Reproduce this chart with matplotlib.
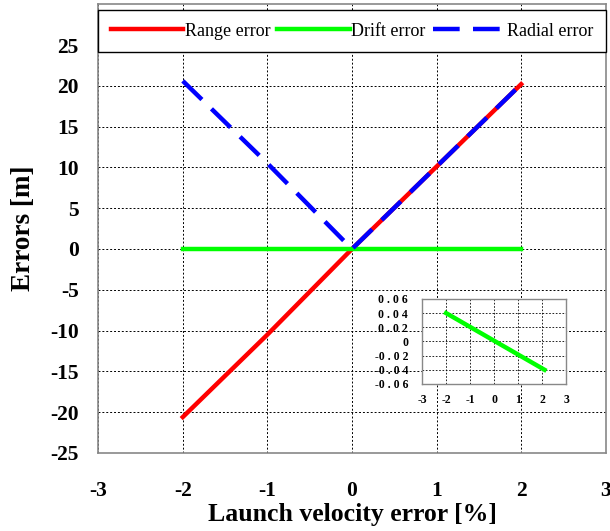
import matplotlib
matplotlib.use('Agg')
import matplotlib.pyplot as plt

plt.rcParams['font.family'] = ['Liberation Serif', 'DejaVu Serif']
plt.rcParams['axes.unicode_minus'] = False

# data
velocity_err = [-2, -1, 0, 1, 2]
range_err = [-20.6, -10.5, 0.0, 10.1, 20.2]
drift_err = [0.0, 0.0, 0.0, 0.0, 0.0]
radial_err = [20.6, 10.5, 0.0, 10.1, 20.2]

inset_x = [-2, 2.1]
inset_drift = [0.04, -0.04]

x_ticks = [-3, -2, -1, 0, 1, 2, 3]
y_ticks = [-25, -20, -15, -10, -5, 0, 5, 10, 15, 20, 25]
inset_yticks = [-0.06, -0.04, -0.02, 0, 0.02, 0.04, 0.06]
inset_ylabels = ['-0 . 0 6', '-0 . 0 4', '-0 . 0 2', '0', '0 . 0 2', '0 . 0 4', '0 . 0 6']

fig = plt.figure(figsize=(6.1, 5.31), dpi=100)
ax = fig.add_axes([0.161, 0.147, 0.832, 0.845])

ax.plot(velocity_err, range_err, color='#ff0000', lw=3.2, label='Range error')
ax.plot(velocity_err, drift_err, color='#00ff00', lw=3.2, label='Drift error')
ax.plot(velocity_err, radial_err, color='#0000ff', lw=3.2, label='Radial error',
        dashes=(6, 3))

ax.set_xlim(-3, 3)
ax.set_ylim(-25, 30)
ax.set_xticks(x_ticks)
ax.set_yticks(y_ticks)
ax.grid(True, color='black', linestyle=(0, (2, 2)), linewidth=0.7)
ax.tick_params(length=0, labelsize=15.5)
ax.tick_params(axis='y', pad=14)
ax.tick_params(axis='x', pad=20)
for lab in ax.get_xticklabels() + ax.get_yticklabels():
    lab.set_fontweight('bold')
for sp in ax.spines.values():
    sp.set_color('#888888')
    sp.set_linewidth(1.2)

ax.set_xlabel('Launch velocity error [%]', fontsize=18.5, fontweight='bold', labelpad=2)
ax.set_ylabel('Errors [m]', fontsize=19.5, fontweight='bold', labelpad=10)

leg = ax.legend(loc='upper left', bbox_to_anchor=(0, 0, 1, 0.987), mode='expand', ncol=3,
                fontsize=13, handlelength=4.0, handletextpad=0.1, columnspacing=0.5,
                fancybox=False, framealpha=1, edgecolor='black', borderpad=0.7,
                borderaxespad=0)
leg.get_frame().set_linewidth(1.0)

# small inset for drift error
ins = fig.add_axes([0.692, 0.277, 0.236, 0.160])
ins.plot(inset_x, inset_drift, color='#00ff00', lw=3.2)
ins.set_xlim(-3, 3)
ins.set_ylim(-0.06, 0.06)
ins.set_xticks(x_ticks)
ins.set_yticks(inset_yticks)
ins.set_yticklabels(inset_ylabels)
ins.grid(True, color='black', linestyle=(0, (2, 2)), linewidth=0.6)
ins.tick_params(length=0, labelsize=8.5)
ins.tick_params(axis='y', pad=10)
ins.tick_params(axis='x', pad=7)
for lab in ins.get_xticklabels() + ins.get_yticklabels():
    lab.set_fontweight('bold')
for sp in ins.spines.values():
    sp.set_color('#888888')
    sp.set_linewidth(1.0)

fig.savefig('out.png', dpi=100)
